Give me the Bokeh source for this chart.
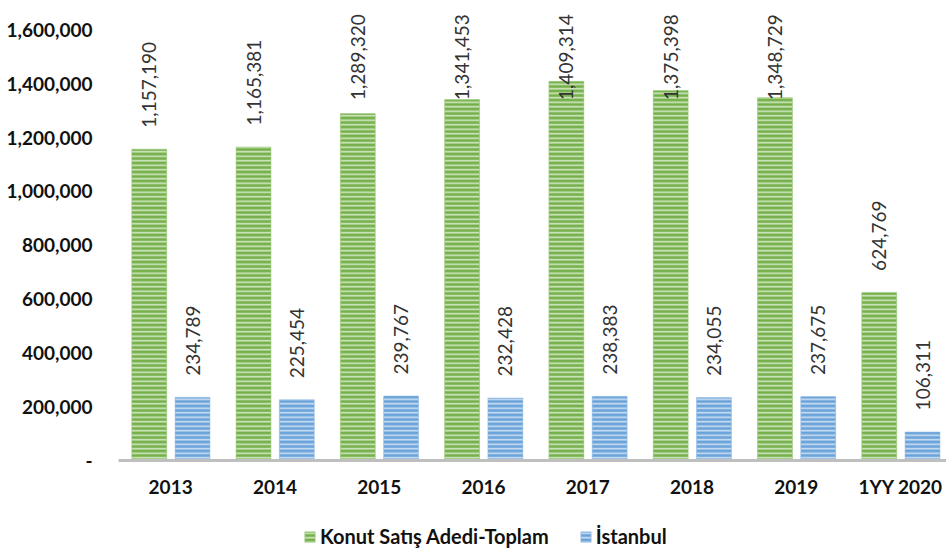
from bokeh.plotting import figure
from bokeh.models import (ColumnDataSource, FixedTicker, NumeralTickFormatter, Range1d,
                          Legend, LegendItem, LabelSet)
from bokeh.layouts import column
from bokeh.core.properties import value
from bokeh.transform import dodge
from bokeh.embed import file_html
from bokeh.resources import INLINE

years = ["2013", "2014", "2015", "2016", "2017", "2018", "2019", "1YY 2020"]
totals = [1157190, 1165381, 1289320, 1341453, 1409314, 1375398, 1348729, 624769]
istanbul = [234789, 225454, 239767, 232428, 238383, 234055, 237675, 106311]
y_ticks = [0, 200000, 400000, 600000, 800000, 1000000, 1200000, 1400000, 1600000]
series_names = ["Konut Satış Adedi-Toplam", "İstanbul"]

FONT = "Lato"
pos = [i + 0.5 for i in range(len(years))]
label_offset = 80000
label_cap = 1340000

GREEN = dict(fill_color="#76B04C", line_color="#9CCB7C", line_width=0.5,
             hatch_pattern="horizontal_line", hatch_color="#D2E8C2", hatch_scale=4.5, hatch_weight=1.6)
BLUE = dict(fill_color="#6AA3DA", line_color="#94BDE6", line_width=0.5,
            hatch_pattern="horizontal_line", hatch_color="#CDE0F3", hatch_scale=4.5, hatch_weight=1.6)

src = ColumnDataSource(dict(
    x=pos,
    total=totals,
    ist=istanbul,
    total_lbl=[f"{v:,}" for v in totals],
    ist_lbl=[f"{v:,}" for v in istanbul],
    total_y=[min(v + label_offset, label_cap) for v in totals],
    ist_y=[min(v + label_offset, label_cap) for v in istanbul],
))

p = figure(width=946, height=522, output_backend="svg", toolbar_location=None,
           x_range=Range1d(0, 7.94), y_range=Range1d(0, 1680000),
           min_border_left=118, min_border_right=0, min_border_top=8, min_border_bottom=62)
p.outline_line_color = None
p.grid.visible = False
p.background_fill_color = "white"

p.vbar(x=dodge("x", -0.205, range=p.x_range), top="total", width=0.335, source=src, **GREEN)
p.vbar(x=dodge("x", 0.21, range=p.x_range), top="ist", width=0.335, source=src, **BLUE)

p.add_layout(LabelSet(x=dodge("x", -0.205, range=p.x_range), y="total_y", text="total_lbl", source=src,
                      angle=1.5708, text_align="left", text_baseline="middle",
                      text_font=value(FONT), text_font_size="19px", text_color="#333333"))
p.add_layout(LabelSet(x=dodge("x", 0.21, range=p.x_range), y="ist_y", text="ist_lbl", source=src,
                      angle=1.5708, text_align="left", text_baseline="middle",
                      text_font=value(FONT), text_font_size="19px", text_color="#333333"))

# x axis
p.xaxis.ticker = FixedTicker(ticks=pos)
p.xaxis.major_label_overrides = {x: y for x, y in zip(pos, years)}
p.xaxis.major_tick_line_color = None
p.xaxis.minor_tick_line_color = None
p.xaxis.axis_line_color = "#BFBFBF"
p.xaxis.axis_line_width = 3
p.xaxis.major_label_text_font = FONT
p.xaxis.major_label_text_font_style = "bold"
p.xaxis.major_label_text_font_size = "19px"
p.xaxis.major_label_text_color = "#111111"
p.xaxis.major_label_standoff = 8

# y axis
p.yaxis.ticker = FixedTicker(ticks=y_ticks)
p.yaxis.formatter = NumeralTickFormatter(format="0,0")
p.yaxis.major_label_overrides = {0: "-"}
p.yaxis.axis_line_color = None
p.yaxis.major_tick_line_color = None
p.yaxis.minor_tick_line_color = None
p.yaxis.major_label_text_font = FONT
p.yaxis.major_label_text_font_style = "bold"
p.yaxis.major_label_text_font_size = "19px"
p.yaxis.major_label_text_color = "#111111"
p.yaxis.major_label_standoff = 20

# legend strip (its frame is aligned with the main frame by the column layout)
lg = figure(width=946, height=29, output_backend="svg", toolbar_location=None,
            x_axis_location=None, y_axis_location=None, min_border=0,
            x_range=Range1d(0, 1), y_range=Range1d(0, 1))
lg.outline_line_color = None
lg.grid.visible = False
swatch = ColumnDataSource(dict(x=[5], top=[1]))  # outside the visible range; only the legend shows it
rg = lg.vbar(x="x", top="top", width=0.1, source=swatch, **GREEN)
rb = lg.vbar(x="x", top="top", width=0.1, source=swatch, **BLUE)
legend = Legend(items=[LegendItem(label=series_names[0], renderers=[rg]),
                       LegendItem(label=series_names[1], renderers=[rb])],
                orientation="horizontal", location=(185, 3),
                label_text_font=FONT, label_text_font_style="bold", label_text_font_size="20px",
                label_text_color="#111111", glyph_width=13, glyph_height=13,
                spacing=30, border_line_color=None, background_fill_alpha=0,
                padding=2, margin=0, label_standoff=4, label_height=18)
lg.add_layout(legend, "center")

open("out.html", "w").write(file_html(column(p, lg, spacing=0), INLINE))
